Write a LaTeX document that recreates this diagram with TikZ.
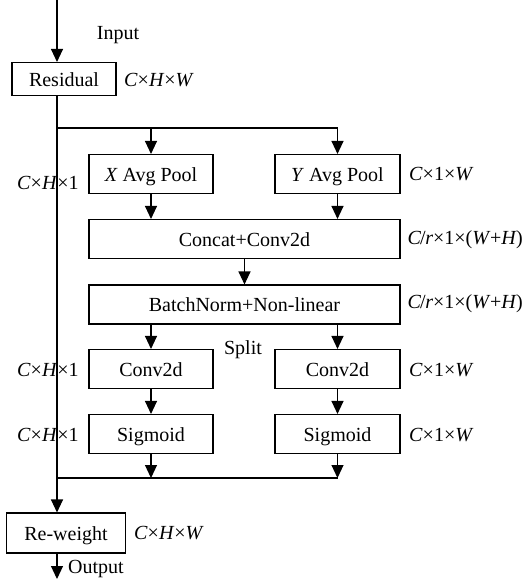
\documentclass[tikz,border=0pt]{standalone}
\usepackage{fontspec}
\setmainfont{Liberation Serif}
\usetikzlibrary{arrows.meta}
\tikzset{
  blk/.style={draw,line width=1.1pt,inner sep=0pt,text height=14pt,text depth=0pt,font=\fontsize{20}{23}\selectfont},
  lbl/.style={inner sep=0pt,font=\fontsize{20}{23}\selectfont},
  flow/.style={line width=1.1pt,-{Triangle[length=13pt,width=12pt]}},
  wire/.style={line width=1.1pt}
}
\newcommand{\dimCHW}{\textit{C}×\textit{H}×\textit{W}}
\newcommand{\dimCHo}{\textit{C}×\textit{H}×1}
\newcommand{\dimCoW}{\textit{C}×1×\textit{W}}
\newcommand{\dimCr}{\textit{C}\kern-1pt/\kern-0.5pt\textit{r}×1×(\textit{W}\kern-0.5pt+\textit{H}\kern-0.5pt)}
\begin{document}
\begin{tikzpicture}[x=1pt,y=-1pt]
  \useasboundingbox (0,0) rectangle (525,581);
  % boxes
  \node[blk,minimum width=104pt,minimum height=33pt] (res) at (64,79) {Residual};
  \node[blk,minimum width=124pt,minimum height=39pt] (xpool) at (151,174) {\textit{X} Avg Pool};
  \node[blk,minimum width=125pt,minimum height=39pt] (ypool) at (337.5,174) {\textit{Y} Avg Pool};
  \node[blk,minimum width=311pt,minimum height=39pt] (concat) at (244.5,239) {Concat+Conv2d};
  \node[blk,minimum width=311pt,minimum height=39pt] (bn) at (244.5,304.5) {BatchNorm+Non-linear};
  \node[blk,minimum width=124pt,minimum height=39pt] (convx) at (151,369) {Conv2d};
  \node[blk,minimum width=125pt,minimum height=39pt] (convy) at (337.5,369) {Conv2d};
  \node[blk,minimum width=124pt,minimum height=39pt] (sigx) at (151,434) {Sigmoid};
  \node[blk,minimum width=125pt,minimum height=39pt] (sigy) at (337.5,434) {Sigmoid};
  \node[blk,minimum width=119pt,minimum height=40pt] (rw) at (66,533) {Re-weight};
  % helper points
  \coordinate (top) at (57,0);
  \coordinate (trunk) at (57,128);
  \coordinate (merge) at (57,478);
  \coordinate (out) at (57,579);
  % labels
  \node[lbl] (inlbl) at (118,35) {Input};
  \node[lbl,anchor=west] (reslbl) at (124,80) {\dimCHW};
  \node[lbl,anchor=west] (xlbl) at (17,183) {\dimCHo};
  \node[lbl,anchor=west] (ylbl) at (409,174) {\dimCoW};
  \node[lbl,anchor=east] (clbl) at (523,240) {\dimCr};
  \node[lbl,anchor=east] (bnlbl) at (523,304) {\dimCr};
  \node[lbl] (split) at (243,350) {Split};
  \node[lbl,anchor=west] (cxlbl) at (17,370) {\dimCHo};
  \node[lbl,anchor=west] (cylbl) at (409,370) {\dimCoW};
  \node[lbl,anchor=west] (sxlbl) at (17,435) {\dimCHo};
  \node[lbl,anchor=west] (sylbl) at (409,435) {\dimCoW};
  \node[lbl,anchor=west] (rwlbl) at (134,533) {\dimCHW};
  \node[lbl,anchor=west] (outlbl) at (68,569) {Output};
  % connectors
  \draw[flow] (top) -- (top |- res.north);
  \draw[flow] (res.south -| trunk) -- (rw.north -| trunk);
  \draw[wire] (trunk) -- (trunk -| ypool.north);
  \draw[flow] (trunk -| ypool.north) -- (ypool.north);
  \draw[flow] (trunk -| xpool.north) -- (xpool.north);
  \draw[flow] (xpool.south) -- (xpool.south |- concat.north);
  \draw[flow] (ypool.south) -- (ypool.south |- concat.north);
  \draw[flow] (concat.south) -- (bn.north);
  \draw[flow] (bn.south -| convx.north) -- (convx.north);
  \draw[flow] (bn.south -| convy.north) -- (convy.north);
  \draw[flow] (convx.south) -- (sigx.north);
  \draw[flow] (convy.south) -- (sigy.north);
  \draw[wire] (merge) -- (merge -| sigy.south);
  \draw[flow] (sigx.south) -- (sigx.south |- merge);
  \draw[flow] (sigy.south) -- (sigy.south |- merge);
  \draw[flow] (rw.south -| out) -- (out);
\end{tikzpicture}
\end{document}
